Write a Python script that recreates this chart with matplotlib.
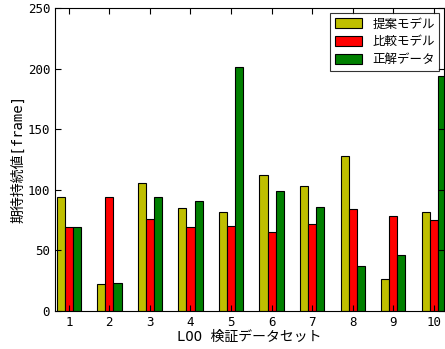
import matplotlib
matplotlib.use("Agg")
import matplotlib.pyplot as plt
import numpy as np

plt.rcParams['font.family'] = ['DejaVu Sans Mono', 'Noto Sans CJK JP']

datasets = [1, 2, 3, 4, 5, 6, 7, 8, 9, 10]
proposed = [94, 22, 106, 85, 82, 112, 103, 128, 26, 82]
compared = [69, 94, 76, 69, 70, 65, 72, 84, 78, 75]
truth = [69, 23, 94, 91, 201, 99, 86, 37, 46, 194]

series = [
    ("提案モデル", proposed, "#bfbf00"),
    ("比較モデル", compared, "#ff0000"),
    ("正解データ", truth, "#008000"),
]

fig = plt.figure(figsize=(4.45, 3.49), dpi=100)
ax = fig.add_axes([0.1236, 0.109, 0.8742, 0.868])

x = np.array(datasets)
w = 0.2
for k, (name, vals, col) in enumerate(series):
    ax.bar(x + (k - 1) * w, vals, width=w, color=col, edgecolor="black",
           linewidth=0.8, label=name)

ax.set_xlim(0.66, 10.25)
ax.set_ylim(0, 250)
ax.set_xticks(datasets)
ax.set_yticks([0, 50, 100, 150, 200, 250])
ax.tick_params(direction="in", top=True, right=True, length=4, labelsize=9)
ax.set_xlabel("LOO 検証データセット", fontsize=10, labelpad=1)
ax.set_ylabel("期待持続値[frame]", fontsize=10, labelpad=2)

leg = ax.legend(loc="upper right", fontsize=9, frameon=True, fancybox=False,
                edgecolor="black", borderaxespad=0.4, handlelength=2.2,
                handleheight=0.9, labelspacing=0.4, handletextpad=0.8,
                borderpad=0.35)
leg.get_frame().set_linewidth(0.8)

fig.savefig("out.png", dpi=100)
